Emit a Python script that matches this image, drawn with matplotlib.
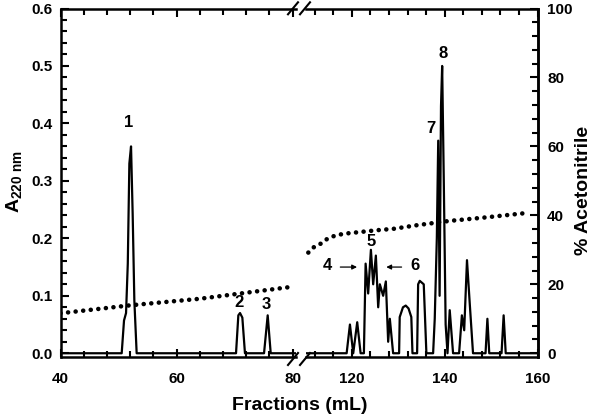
import matplotlib
matplotlib.use("Agg")
import matplotlib.pyplot as plt
from matplotlib.ticker import MultipleLocator, FixedLocator
from matplotlib.lines import Line2D

plt.rcParams['font.family'] = ['Liberation Sans', 'DejaVu Sans']
plt.rcParams['font.weight'] = 'bold'
plt.rcParams['mathtext.fontset'] = 'custom'
plt.rcParams['mathtext.rm'] = 'Liberation Sans:bold'
plt.rcParams['mathtext.it'] = 'Liberation Sans:bold'
plt.rcParams['mathtext.bf'] = 'Liberation Sans:bold'

# ABSORBANCE TRACE (A220 nm)
frac_left = [40, 50.55, 50.95, 51.3, 51.6, 51.87, 52.16, 52.44, 52.73, 53.13,
             70.26, 70.66, 70.95, 71.35, 71.8, 75.09, 75.72, 76.24, 80.6]
abs_left = [0, 0, 0.057, 0.07, 0.156, 0.33, 0.36, 0.243, 0.092, 0,
            0, 0.066, 0.07, 0.062, 0, 0, 0.066, 0, 0]

frac_right = [110.1, 118.86, 119.57, 120.28, 121.14, 121.87, 122.58, 122.95, 123.5,
              124.09, 124.58, 125.16, 125.66, 126.02, 126.73, 127.31, 127.81, 128.17,
              128.88, 130.17, 130.3, 131.0, 131.6, 132.2, 132.8, 133.05, 134.05,
              134.27, 134.62, 135.48, 136.05, 137.5, 137.85, 138.3, 138.6, 138.9,
              139.2, 139.45, 139.8, 140.2, 140.6, 141.08, 141.8, 143.1, 143.7,
              144.2, 144.8, 145.4, 146.1, 148.8, 149.2, 149.6, 152.25, 152.7,
              153.15, 160]
abs_right = [0, 0, 0.05, 0, 0.054, 0, 0, 0.156, 0.104,
             0.18, 0.12, 0.17, 0.08, 0.12, 0.10, 0.125, 0.02, 0.06,
             0, 0, 0.063, 0.08, 0.083, 0.078, 0.063, 0, 0,
             0.12, 0.126, 0.12, 0, 0, 0.06, 0.2, 0.37, 0.1,
             0.43, 0.5, 0.3, 0.05, 0, 0.075, 0, 0, 0.066,
             0.04, 0.162, 0.086, 0, 0, 0.06, 0, 0, 0.066,
             0, 0]

# ACETONITRILE GRADIENT (%)
acn_x_left = [40, 52, 64, 80]
acn_left = [11.6, 13.9, 15.8, 19.3]
acn_x_right = [110.6, 111.9, 113.3, 114.7, 116.5, 118.5, 122.0, 125.5, 129.0,
               133.8, 141.1, 148.1, 156.4, 158.3]
acn_right = [29.2, 30.9, 31.8, 33.2, 34.2, 34.7, 35.2, 35.7, 36.1,
             37.1, 38.4, 39.3, 40.5, 40.8]

# PEAK LABELS
peak_names = ["1", "2", "3", "5", "7", "8"]
peak_x = [51.7, 70.8, 75.55, 124.1, 137.1, 139.6]
peak_y = [0.402, 0.0875, 0.0857, 0.194, 0.391, 0.522]

W, H = 600, 416
fig = plt.figure(figsize=(6, 4.16), dpi=100)

bottom_px, top_px = 356.7, 8.5
b = 1 - bottom_px / H
h = (bottom_px - top_px) / H
ax_l = fig.add_axes([60.5 / W, b, (296 - 60.5) / W, h])
ax_r = fig.add_axes([306 / W, b, (537.5 - 306) / W, h])

ax_l.plot(frac_left, abs_left, color='black', lw=1.6)
ax_r.plot(frac_right, abs_right, color='black', lw=1.6)

# twin axes for % acetonitrile
tw_l = ax_l.twinx()
tw_r = ax_r.twinx()

ylo, yhi = -0.006, 0.6
for ax in (ax_l, ax_r):
    ax.set_ylim(ylo, yhi)
    ax.tick_params(which='both', direction='in', top=True, width=1.5, labelsize=11)
    ax.tick_params(which='major', length=6)
    ax.tick_params(which='minor', length=4)
    ax.tick_params(axis='x', pad=11)
    for s in ax.spines.values():
        s.set_linewidth(1.8)
    ax.xaxis.set_minor_locator(MultipleLocator(4))

ax_l.set_xlim(40, 80.6)
ax_l.xaxis.set_major_locator(FixedLocator([40, 60, 80]))
ax_l.yaxis.set_major_locator(MultipleLocator(0.1))
ax_l.yaxis.set_minor_locator(MultipleLocator(0.02))
ax_l.yaxis.set_major_formatter(plt.FuncFormatter(lambda v, p: f"{v:.1f}"))
ax_l.tick_params(axis='y', left=True, right=False, which='both', pad=6)
ax_l.spines['right'].set_visible(False)

ax_r.set_xlim(110.1, 160)
ax_r.xaxis.set_major_locator(FixedLocator([120, 140, 160]))
ax_r.tick_params(axis='y', left=False, right=False, labelleft=False, which='both')
ax_r.spines['left'].set_visible(False)

for tw in (tw_l, tw_r):
    tw.set_ylim(ylo * 100 / 0.6, 100)
    for s in tw.spines.values():
        s.set_visible(False)
tw_l.tick_params(left=False, right=False, labelright=False, which='both')
tw_r.spines['right'].set_visible(True)
tw_r.spines['right'].set_linewidth(1.8)
tw_r.yaxis.set_major_locator(MultipleLocator(20))
tw_r.yaxis.set_minor_locator(MultipleLocator(4))
tw_r.tick_params(which='both', direction='in', left=False, width=1.5, labelsize=11, pad=7)
tw_r.tick_params(which='major', length=6)
tw_r.tick_params(which='minor', length=4)

dot_style = dict(color='black', lw=3.3, linestyle=(0, (0.01, 1.65)),
                 dash_capstyle='round')
tw_l.plot(acn_x_left, acn_left, **dot_style)
tw_r.plot(acn_x_right, acn_right, **dot_style)

# peak labels
for name, x, y in zip(peak_names, peak_x, peak_y):
    ax = ax_l if x < 100 else ax_r
    ax.text(x, y, name, ha='center', va='center', fontsize=12, fontweight='bold')

ax_r.text(114.6, 0.153, "4", ha='center', va='center', fontsize=12, fontweight='bold')
ax_r.text(133.6, 0.153, "6", ha='center', va='center', fontsize=12, fontweight='bold')
ax_r.annotate("", xy=(121.7, 0.15), xytext=(116.9, 0.15),
              arrowprops=dict(arrowstyle='-|>', color='black', lw=0.9, mutation_scale=7))
ax_r.annotate("", xy=(126.8, 0.15), xytext=(131.3, 0.15),
              arrowprops=dict(arrowstyle='-|>', color='black', lw=0.9, mutation_scale=7))

# axis break marks
for yc in (359, 8.3):
    for xc in (293, 305):
        fig.add_artist(Line2D([(xc - 5) / W, (xc + 5) / W],
                              [1 - (yc + 6) / H, 1 - (yc - 6) / H],
                              color='black', lw=1.5))

fig.text(300 / W, 1 - 405 / H, "Fractions (mL)", ha='center', va='center',
         fontsize=14, fontweight='bold')
fig.text(14 / W, 1 - 182 / H, r"A$_{220\ \mathrm{nm}}$", ha='center', va='center',
         rotation=90, fontsize=14, fontweight='bold')
fig.text(583 / W, 1 - 190 / H, "% Acetonitrile", ha='center', va='center',
         rotation=90, fontsize=14, fontweight='bold')

fig.savefig("out.png", dpi=100)
